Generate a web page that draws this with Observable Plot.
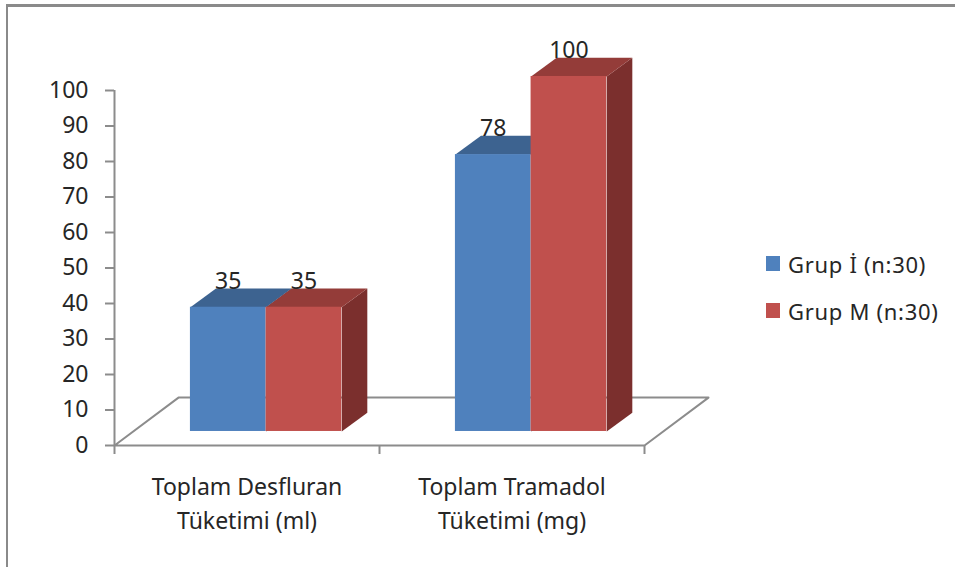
<!DOCTYPE html>
<html>
<head>
<meta charset="utf-8">
<script src="https://cdn.jsdelivr.net/npm/d3@7"></script>
<script src="https://cdn.jsdelivr.net/npm/@observablehq/plot@0.6"></script>
<style>
  html, body { margin: 0; padding: 0; background: #fff; overflow: hidden; }
  #page { position: relative; width: 955px; height: 567px; }
  #page svg { position: absolute; left: 0; top: 0; overflow: visible; }
  #border { position: absolute; left: 6px; top: 4px; right: 0; bottom: 0;
            border-left: 2px solid #8a8a8a; border-top: 3px solid #8a8a8a; }
  #legend { position: absolute; left: 766px; top: 240px; font: 22px "Noto Sans", sans-serif; letter-spacing: 0.7px; color: #262626; }
  #legend div { display: flex; align-items: center; height: 47px; line-height: 30px; white-space: nowrap; }
  #legend i { display: block; width: 14px; height: 15px; margin-right: 8px; }
</style>
</head>
<body>
<div id="page"><div id="border"></div><div id="legend"></div></div>
<script>
// Consumption per group, in each category's own unit
const categories = ["Toplam Desfluran\nTüketimi (ml)", "Toplam Tramadol\nTüketimi (mg)"];
const seriesNames = ["Grup İ (n:30)", "Grup M (n:30)"];
const grupI = [35, 78];
const grupM = [35, 100];
const yTicks = d3.range(0, 101, 10);

const frontColors = ["#4f81bd", "#c0504d"];
const topColors = ["#3d6390", "#943c39"];
const sideColors = ["#2f4d70", "#7b2f2d"];
const axisGrey = "#8c8c8c";
const textColor = "#262626";

// Oblique projection, in axis units: x counts category slots, y counts value units
const floorDepth = {x: 0.2415, y: 13.5};
const barDepth = {x: 0.0965, y: 5.3};
const barLift = 3.95;
const barInset = 0.2865;
const barWidth = 0.2855;

const bars = [grupI, grupM].flatMap((values, s) =>
  values.map((value, c) => {
    const x1 = c + barInset + s * barWidth;
    return {s, value, x1, x2: x1 + barWidth, y1: barLift, y2: barLift + value};
  })
);

const topFace = (b) => [
  {id: `${b.s}-${b.x1}`, x: b.x1, y: b.y2},
  {id: `${b.s}-${b.x1}`, x: b.x1 + barDepth.x, y: b.y2 + barDepth.y},
  {id: `${b.s}-${b.x1}`, x: b.x2 + barDepth.x, y: b.y2 + barDepth.y},
  {id: `${b.s}-${b.x1}`, x: b.x2, y: b.y2}
];
const sideFace = (b) => [
  {id: `${b.s}-${b.x1}`, x: b.x2, y: b.y1},
  {id: `${b.s}-${b.x1}`, x: b.x2 + barDepth.x, y: b.y1 + barDepth.y},
  {id: `${b.s}-${b.x1}`, x: b.x2 + barDepth.x, y: b.y2 + barDepth.y},
  {id: `${b.s}-${b.x1}`, x: b.x2, y: b.y2}
];

const floor = [
  {x: 0, y: 0},
  {x: floorDepth.x, y: floorDepth.y},
  {x: 2 + floorDepth.x, y: floorDepth.y},
  {x: 2, y: 0},
  {x: 0, y: 0}
];

// Each bar paints side, top, then front so its right neighbour covers it
const barMarks = bars.flatMap((b) => [
  Plot.line(sideFace(b), {x: "x", y: "y", z: "id", fill: sideColors[b.s], stroke: "none"}),
  Plot.line(topFace(b), {x: "x", y: "y", z: "id", fill: topColors[b.s], stroke: "none"}),
  Plot.rect([b], {x1: "x1", x2: "x2", y1: "y1", y2: "y2", fill: frontColors[b.s], inset: 0})
]);

const chart = Plot.plot({
  width: 955,
  height: 567,
  marginLeft: 114,
  marginRight: 311,
  marginTop: 90,
  marginBottom: 122,
  style: {background: "transparent", fontFamily: "'Noto Sans', sans-serif", color: textColor},
  x: {domain: [0, 2], label: null},
  y: {domain: [0, 100], label: null},
  marks: [
    Plot.line(floor, {x: "x", y: "y", stroke: axisGrey, strokeWidth: 2}),
    Plot.ruleX([0], {y1: 0, y2: 100, stroke: axisGrey, strokeWidth: 2}),
    Plot.axisY({ticks: yTicks, tickSize: 9, tickPadding: 17, fontSize: 23, stroke: axisGrey, strokeWidth: 2, strokeOpacity: 1, label: null}),
    Plot.axisX({ticks: [0, 1, 2], tickSize: 9, tickFormat: () => "", stroke: axisGrey, strokeWidth: 2, strokeOpacity: 1, label: null}),
    ...barMarks,
    Plot.text(bars, {
      x: (b) => (b.x1 + b.x2) / 2,
      y: "y2",
      text: "value",
      dy: -25.5,
      fontSize: 23,
      fill: textColor
    }),
    Plot.text(categories, {
      x: (d, i) => i + 0.5,
      y: 0,
      text: (d) => d,
      dy: 25,
      lineAnchor: "top",
      lineHeight: 1.48,
      fontSize: 23,
      fill: textColor
    })
  ]
});

const page = document.getElementById("page");
page.insertBefore(chart, document.getElementById("legend"));

const legend = document.getElementById("legend");
seriesNames.forEach((name, i) => {
  const row = document.createElement("div");
  const swatch = document.createElement("i");
  swatch.style.background = frontColors[i];
  row.append(swatch, document.createTextNode(name));
  legend.append(row);
});
</script>
</body>
</html>
